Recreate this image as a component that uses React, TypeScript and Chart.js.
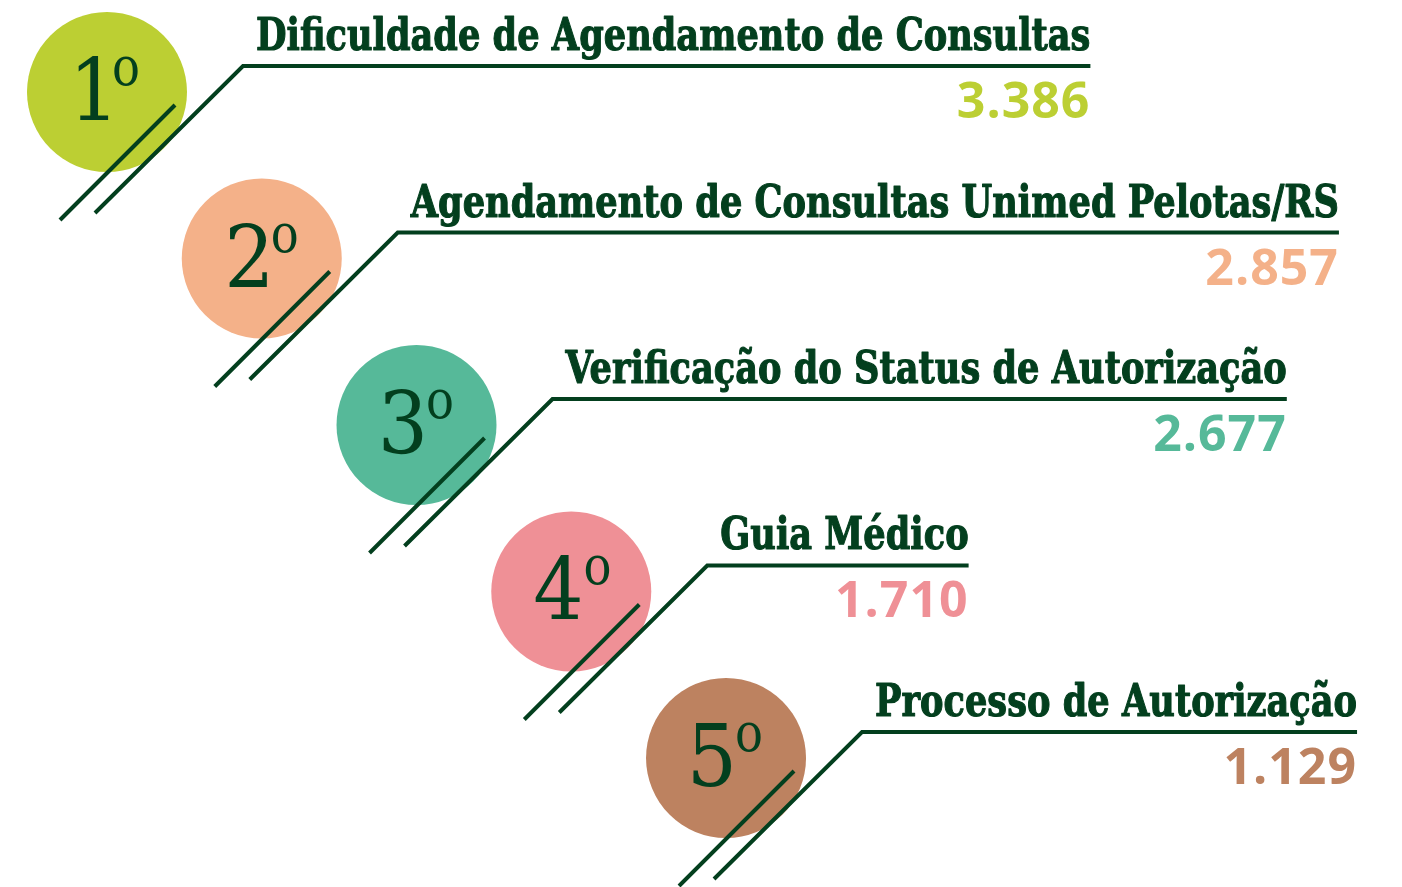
import React, { useEffect, useRef } from "react";
import { Chart, registerables } from "chart.js";

Chart.register(...registerables);

// ---- Data ----
const RANKS = ["1", "2", "3", "4", "5"];
const CATEGORIES = [
  "Dificuldade de Agendamento de Consultas",
  "Agendamento de Consultas Unimed Pelotas/RS",
  "Verificação do Status de Autorização",
  "Guia Médico",
  "Processo de Autorização",
];
const VALUES = [3386, 2857, 2677, 1710, 1129];

// ---- Styles ----
const COLORS = ["#bccf33", "#f4b189", "#56b999", "#ef9096", "#bd8260"];
const DARK = "#033f1e";
const TITLE_FONT = "bold 44px 'DejaVu Serif'";
const TITLE_SCALE = 0.8;
const VALUE_FONT = "bold 50px 'Open Sans'";
const RANK_FONT = "86px 'DejaVu Serif'";
const RANK_SCALE = 0.92;
const RANK_O_FONT = "54px 'DejaVu Serif'";
const RANK_O_SCALE = 0.86;

const formatValue = (v: number) =>
  String(v).replace(/\B(?=(\d{3})+(?!\d))/g, ".");

const infoPlugin = {
  id: "rankInfo",
  afterDatasetsDraw(chart: any) {
    const ctx: CanvasRenderingContext2D = chart.ctx;
    const meta = chart.getDatasetMeta(0);
    meta.data.forEach((pt: any, i: number) => {
      const cx = pt.x;
      const cy = pt.y;
      const title = CATEGORIES[i];
      ctx.save();
      ctx.textAlign = "left";
      ctx.textBaseline = "alphabetic";
      ctx.font = TITLE_FONT;
      const tw = ctx.measureText(title).width * TITLE_SCALE;
      const sx = cx + 136;
      const sy = cy - 26;
      const ex = sx + 13 + tw;

      // lines
      ctx.strokeStyle = DARK;
      ctx.lineWidth = 4;
      ctx.lineJoin = "miter";
      ctx.beginPath();
      ctx.moveTo(cx + 68, cy + 13);
      ctx.lineTo(cx - 47, cy + 128);
      ctx.stroke();
      ctx.beginPath();
      ctx.moveTo(cx - 12, cy + 121);
      ctx.lineTo(sx, sy);
      ctx.lineTo(ex, sy);
      ctx.stroke();

      // title
      ctx.save();
      ctx.translate(sx + 13, sy - 16);
      ctx.scale(TITLE_SCALE, 1);
      ctx.fillStyle = DARK;
      ctx.strokeStyle = DARK;
      ctx.lineWidth = 1.2;
      ctx.lineJoin = "round";
      ctx.font = TITLE_FONT;
      ctx.fillText(title, 0, 0);
      ctx.strokeText(title, 0, 0);
      ctx.restore();

      // value
      ctx.save();
      ctx.font = VALUE_FONT;
      ctx.fillStyle = COLORS[i];
      ctx.textAlign = "right";
      (ctx as any).letterSpacing = "1px";
      ctx.fillText(formatValue(VALUES[i]), ex, sy + 52);
      ctx.restore();

      // rank number, centred in the circle
      ctx.textAlign = "left";
      ctx.font = RANK_FONT;
      const dm = ctx.measureText(RANKS[i]);
      const dW = (dm.actualBoundingBoxRight + dm.actualBoundingBoxLeft) * RANK_SCALE;
      ctx.font = RANK_O_FONT;
      const om = ctx.measureText("o");
      const oW = (om.actualBoundingBoxRight + om.actualBoundingBoxLeft) * RANK_O_SCALE;
      const gap = 5;
      const left = cx + 1 - (dW + gap + oW) / 2;

      ctx.save();
      ctx.translate(left, cy + 28);
      ctx.scale(RANK_SCALE, 1);
      ctx.fillStyle = DARK;
      ctx.font = RANK_FONT;
      ctx.fillText(RANKS[i], dm.actualBoundingBoxLeft, 0);
      ctx.restore();

      ctx.save();
      ctx.translate(left + dW + gap, cy - 7);
      ctx.scale(RANK_O_SCALE, 1);
      ctx.fillStyle = DARK;
      ctx.font = RANK_O_FONT;
      ctx.fillText("o", om.actualBoundingBoxLeft, 0);
      ctx.restore();

      ctx.restore();
    });
  },
};

export default function App() {
  const ref = useRef<HTMLCanvasElement | null>(null);
  useEffect(() => {
    if (!ref.current) return;
    const chart = new Chart(ref.current, {
      type: "scatter",
      data: {
        datasets: [
          {
            data: RANKS.map((_, i) => ({ x: i + 1, y: i + 1 })),
            pointRadius: 80,
            pointHoverRadius: 80,
            pointBackgroundColor: COLORS,
            pointBorderWidth: 0,
            borderWidth: 0,
            clip: false,
          },
        ],
      },
      options: {
        responsive: false,
        animation: false,
        events: [],
        layout: { padding: 0, autoPadding: false },
        plugins: { legend: { display: false }, tooltip: { enabled: false } },
        scales: {
          x: { type: "linear", display: false, min: 0.3086, max: 9.368 },
          y: { type: "linear", display: false, reverse: true, min: 0.4474, max: 5.7748 },
        },
      },
      plugins: [infoPlugin],
    });
    return () => chart.destroy();
  }, []);
  return (
    <div style={{ position: "fixed", left: 0, top: 0, width: 1402, height: 887, background: "#fff" }}>
      <canvas ref={ref} width={1402} height={887} style={{ display: "block" }} />
    </div>
  );
}
